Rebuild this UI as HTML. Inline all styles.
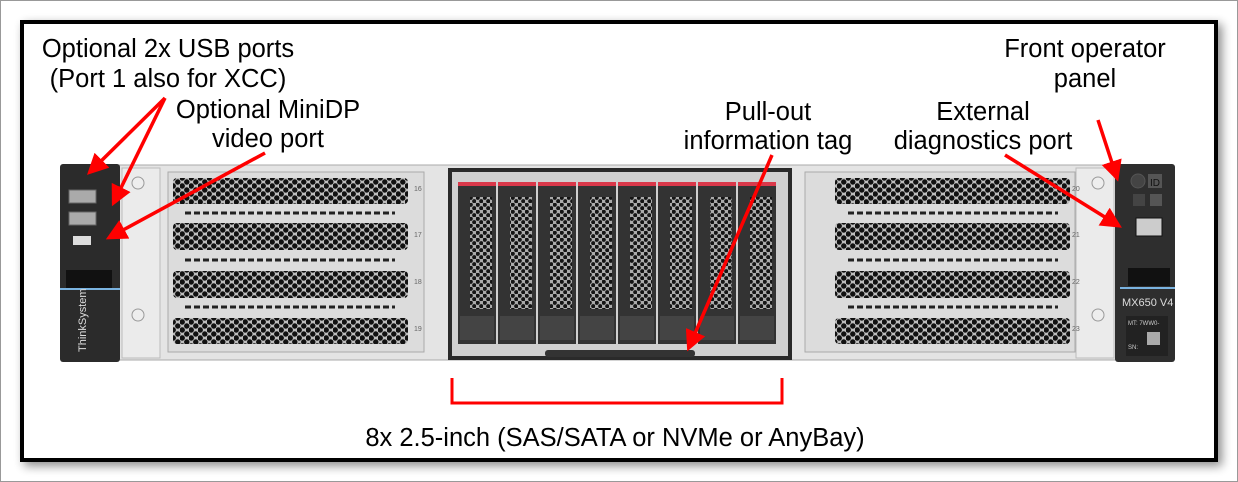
<!DOCTYPE html>
<html><head><meta charset="utf-8"><style>
html,body{margin:0;padding:0;background:#fff}
svg{display:block}
text{font-family:"Liberation Sans",Arial,sans-serif;fill:#000}
</style></head><body>
<svg width="1238" height="482" viewBox="0 0 1238 482" xmlns="http://www.w3.org/2000/svg">
<defs>
<filter id="sh" x="-5%" y="-10%" width="110%" height="120%"><feGaussianBlur stdDeviation="5"/></filter>
<pattern id="hex" width="9" height="8" patternUnits="userSpaceOnUse">
<rect width="9" height="8" fill="#bdbdbd"/>
<circle cx="2.25" cy="2" r="2.7" fill="#111"/>
<circle cx="6.75" cy="6" r="2.7" fill="#111"/>
<circle cx="6.75" cy="-2" r="2.7" fill="#111"/>
<circle cx="-2.25" cy="6" r="2.7" fill="#111"/>
<circle cx="11.25" cy="6" r="2.7" fill="#111"/>
<circle cx="2.25" cy="10" r="2.7" fill="#111"/>
</pattern>
<pattern id="hex2" width="7" height="7" patternUnits="userSpaceOnUse">
<rect width="7" height="7" fill="#aaa"/>
<circle cx="1.75" cy="1.75" r="2.1" fill="#151515"/>
<circle cx="5.25" cy="5.25" r="2.1" fill="#151515"/>
</pattern>
<marker id="ah" markerWidth="6" markerHeight="6" refX="4" refY="3" orient="auto" markerUnits="strokeWidth">
<path d="M0,0 L6,3 L0,6 z" fill="#f00"/>
</marker>
</defs>
<rect x="0.5" y="0.5" width="1237" height="481" fill="#fff" stroke="#999"/>
<rect x="24" y="24" width="1198" height="442" fill="#000" opacity="0.45" filter="url(#sh)"/>
<rect x="20" y="20" width="1198" height="442" fill="#000"/>
<rect x="24" y="24" width="1190" height="434" fill="#fff"/>

<!-- chassis -->
<rect x="118" y="165" width="1000" height="195" fill="#e4e4e4" stroke="#aaa"/>
<rect x="122" y="168" width="38" height="190" fill="#ebebeb" stroke="#bbb"/>
<rect x="1076" y="168" width="38" height="190" fill="#ebebeb" stroke="#bbb"/>
<circle cx="138" cy="183" r="6" fill="#eee" stroke="#999"/>
<circle cx="138" cy="315" r="6" fill="#eee" stroke="#999"/>
<circle cx="1098" cy="183" r="6" fill="#eee" stroke="#999"/>
<circle cx="1098" cy="315" r="6" fill="#eee" stroke="#999"/>
<rect x="168" y="172" width="256" height="180" fill="#dcdcdc" stroke="#aaa"/>
<rect x="805" y="172" width="270" height="180" fill="#dcdcdc" stroke="#aaa"/>
<g fill="url(#hex)">
<rect x="173" y="178" width="235" height="26" rx="4"/>
<rect x="173" y="223" width="235" height="27" rx="4"/>
<rect x="173" y="271" width="235" height="27" rx="4"/>
<rect x="173" y="318" width="235" height="26" rx="4"/>
<rect x="835" y="178" width="235" height="26" rx="4"/>
<rect x="835" y="223" width="235" height="27" rx="4"/>
<rect x="835" y="271" width="235" height="27" rx="4"/>
<rect x="835" y="318" width="235" height="26" rx="4"/>
</g>
<g stroke="#222" stroke-width="3" stroke-dasharray="6,3">
<line x1="185" y1="213" x2="395" y2="213"/><line x1="185" y1="260" x2="395" y2="260"/><line x1="185" y1="307" x2="395" y2="307"/>
<line x1="848" y1="213" x2="1058" y2="213"/><line x1="848" y1="260" x2="1058" y2="260"/><line x1="848" y1="307" x2="1058" y2="307"/>
</g>
<g font-size="7">
<text x="414" y="191" style="fill:#666">16</text><text x="414" y="237" style="fill:#666">17</text><text x="414" y="284" style="fill:#666">18</text><text x="414" y="331" style="fill:#666">19</text>
<text x="1072" y="191" style="fill:#666">20</text><text x="1072" y="237" style="fill:#666">21</text><text x="1072" y="284" style="fill:#666">22</text><text x="1072" y="331" style="fill:#666">23</text>
</g>
<!-- drive bay -->
<rect x="448" y="168" width="344" height="192" fill="#2a2a2a"/>
<rect x="452" y="172" width="336" height="184" fill="#d0d0d0"/>
<g fill="#333">
<rect x="458" y="182" width="38" height="162"/><rect x="498" y="182" width="38" height="162"/>
<rect x="538" y="182" width="38" height="162"/><rect x="578" y="182" width="38" height="162"/>
<rect x="618" y="182" width="38" height="162"/><rect x="658" y="182" width="38" height="162"/>
<rect x="698" y="182" width="38" height="162"/><rect x="738" y="182" width="38" height="162"/>
</g>
<g fill="#d9384a">
<rect x="458" y="182" width="38" height="4"/><rect x="498" y="182" width="38" height="4"/><rect x="538" y="182" width="38" height="4"/><rect x="578" y="182" width="38" height="4"/>
<rect x="618" y="182" width="38" height="4"/><rect x="658" y="182" width="38" height="4"/><rect x="698" y="182" width="38" height="4"/><rect x="738" y="182" width="38" height="4"/>
</g>
<g fill="url(#hex2)">
<rect x="470" y="197" width="22" height="112"/><rect x="510" y="197" width="22" height="112"/><rect x="550" y="197" width="22" height="112"/><rect x="590" y="197" width="22" height="112"/>
<rect x="630" y="197" width="22" height="112"/><rect x="670" y="197" width="22" height="112"/><rect x="710" y="197" width="22" height="112"/><rect x="750" y="197" width="22" height="112"/>
</g>
<g fill="#444">
<rect x="460" y="316" width="34" height="24"/><rect x="500" y="316" width="34" height="24"/><rect x="540" y="316" width="34" height="24"/><rect x="580" y="316" width="34" height="24"/>
<rect x="620" y="316" width="34" height="24"/><rect x="660" y="316" width="34" height="24"/><rect x="700" y="316" width="34" height="24"/><rect x="740" y="316" width="34" height="24"/>
</g>
<rect x="545" y="350" width="150" height="7" rx="3" fill="#333"/>
<!-- left ear -->
<rect x="60" y="164" width="60" height="198" rx="3" fill="#2b2b2b"/>
<rect x="69" y="190" width="27" height="13" fill="#aaa" stroke="#666"/>
<rect x="69" y="212" width="27" height="13" fill="#aaa" stroke="#666"/>
<rect x="73" y="236" width="18" height="9" fill="#ddd"/>
<rect x="66" y="270" width="46" height="18" fill="#111"/>
<rect x="60" y="288" width="60" height="2" fill="#7ab3e0"/>
<text transform="translate(86,352) rotate(-90)" font-size="11" style="fill:#ddd">ThinkSystem</text>
<!-- right ear -->
<rect x="1115" y="164" width="60" height="198" rx="3" fill="#2e2e2e"/>
<circle cx="1138" cy="181" r="7" fill="#444" stroke="#555"/>
<rect x="1148" y="174" width="14" height="14" fill="#555"/><text x="1150" y="186" font-size="10" style="fill:#111">ID</text>
<rect x="1133" y="194" width="12" height="12" fill="#444"/>
<rect x="1150" y="194" width="12" height="12" fill="#555"/>
<rect x="1136" y="218" width="26" height="18" fill="#ccc" stroke="#111"/>
<rect x="1128" y="268" width="42" height="18" fill="#111"/>
<rect x="1120" y="287" width="55" height="2" fill="#7ab3e0"/>
<text x="1122" y="306" font-size="11" style="fill:#ddd">MX650 V4</text>
<rect x="1126" y="316" width="42" height="40" fill="#222"/>
<text x="1128" y="325" font-size="6" style="fill:#ccc">MT: 7WW0-</text>
<text x="1128" y="349" font-size="6" style="fill:#ccc">SN:</text>
<rect x="1147" y="332" width="13" height="13" fill="#aaa"/>

<!-- labels -->
<g font-size="25.5" text-anchor="middle">
<text x="168" y="57">Optional 2x USB ports</text>
<text x="168" y="87">(Port 1 also for XCC)</text>
<text x="268" y="118">Optional MiniDP</text>
<text x="268" y="147">video port</text>
<text x="768" y="120">Pull-out</text>
<text x="768" y="149">information tag</text>
<text x="983" y="120">External</text>
<text x="983" y="149">diagnostics port</text>
<text x="1085" y="57">Front operator</text>
<text x="1085" y="87">panel</text>
<text x="615" y="446">8x 2.5-inch (SAS/SATA or NVMe or AnyBay)</text>
</g>

<!-- arrows -->
<g stroke="#f00" stroke-width="3.5" fill="none" marker-end="url(#ah)">
<line x1="165" y1="98" x2="92" y2="170"/>
<line x1="165" y1="98" x2="115" y2="200"/>
<line x1="265" y1="153" x2="112" y2="236"/>
<line x1="772" y1="155" x2="690" y2="345"/>
<line x1="1005" y1="155" x2="1116" y2="224"/>
<line x1="1098" y1="120" x2="1116" y2="175"/>
</g>
<path d="M452,378 V403 H782 V378" stroke="#f00" stroke-width="3" fill="none"/>
</svg>
</body></html>
